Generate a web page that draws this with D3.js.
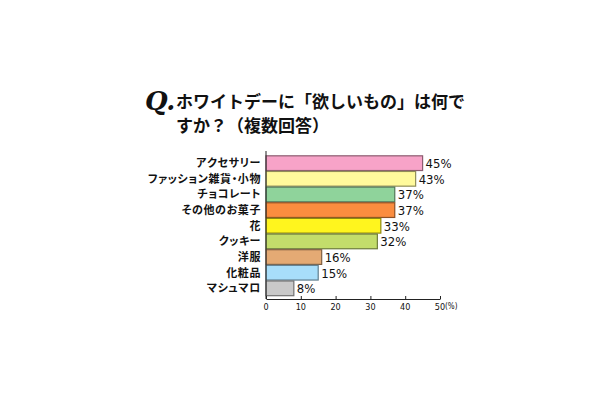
<!DOCTYPE html>
<html>
<head>
<meta charset="utf-8">
<script src="https://cdn.jsdelivr.net/npm/d3@7"></script>
<style>
  body { margin: 0; background: #fff; }
  svg { display: block; }
</style>
</head>
<body>
<svg id="chart" width="610" height="400"></svg>
<script>
// data
const categories = ["アクセサリー", "ファッション雑貨・小物", "チョコレート", "その他のお菓子", "花", "クッキー", "洋服", "化粧品", "マシュマロ"];
const values = [45, 43, 37, 37, 33, 32, 16, 15, 8];
const barColors = ["#f7a3c8", "#fffa9c", "#8fd39b", "#fb8d3f", "#fff51e", "#c3dd6b", "#e4aa74", "#a8defa", "#c9c9c9"];
const tickValues = [0, 10, 20, 30, 40, 50];

const svg = d3.select("#chart");
const font = "'Noto Sans CJK JP', 'Noto Sans', sans-serif";

// scales
const x = d3.scaleLinear().domain([0, 50]).range([266, 440]);
const y = d3.scaleBand()
  .domain(categories)
  .range([155.5, 296])
  .paddingInner(0.06)
  .paddingOuter(0.02);

// title
svg.append("text")
  .attr("x", 145).attr("y", 110)
  .attr("font-family", "'DejaVu Serif', serif")
  .attr("font-style", "italic")
  .attr("font-weight", "bold")
  .attr("font-size", 26)
  .attr("fill", "#111")
  .text("Q.");

const title = svg.append("text")
  .attr("font-family", font)
  .attr("font-weight", "bold")
  .attr("font-size", 17)
  .attr("fill", "#111");
title.append("tspan").attr("x", 176).attr("y", 108).text("ホワイトデーに「欲しいもの」は何で");
title.append("tspan").attr("x", 176).attr("y", 132).text("すか？（複数回答）");

// bars
svg.selectAll(".bar")
  .data(categories)
  .enter()
  .append("rect")
  .attr("class", "bar")
  .attr("x", x(0))
  .attr("y", d => y(d))
  .attr("width", (d, i) => x(values[i]) - x(0))
  .attr("height", y.bandwidth())
  .attr("fill", (d, i) => barColors[i])
  .attr("stroke", (d, i) => d3.color(barColors[i]).darker(1.6))
  .attr("stroke-width", 1.2);

// value labels
svg.selectAll(".val")
  .data(categories)
  .enter()
  .append("text")
  .attr("class", "val")
  .attr("x", (d, i) => x(values[i]) + 3)
  .attr("y", d => y(d) + y.bandwidth() / 2 + 5)
  .attr("font-family", "'Liberation Sans Narrow', 'DejaVu Sans Condensed', sans-serif")
  .attr("font-size", 13)
  .attr("fill", "#111")
  .text((d, i) => values[i] + "%");

// category labels
svg.selectAll(".cat")
  .data(categories)
  .enter()
  .append("text")
  .attr("class", "cat")
  .attr("x", 261)
  .attr("y", d => y(d) + y.bandwidth() / 2 + 4)
  .attr("text-anchor", "end")
  .attr("font-family", font)
  .attr("font-weight", "bold")
  .attr("font-size", 11)
  .style("font-feature-settings", "'palt'")
  .attr("letter-spacing", 0.6)
  .attr("fill", "#111")
  .text(d => d);

// y axis line
svg.append("line")
  .attr("x1", x(0)).attr("x2", x(0))
  .attr("y1", 151).attr("y2", 299)
  .attr("stroke", "#222").attr("stroke-width", 1);

// x axis (ticks point up)
const xAxis = svg.append("g")
  .attr("transform", "translate(0,299)")
  .call(d3.axisTop(x).tickValues(tickValues).tickSize(3).tickSizeOuter(0).tickFormat(""));
xAxis.select(".domain").attr("stroke", "#222");
xAxis.selectAll(".tick line").attr("stroke", "#222");

svg.selectAll(".tlab")
  .data(tickValues)
  .enter()
  .append("text")
  .attr("class", "tlab")
  .attr("x", d => x(d))
  .attr("y", 310)
  .attr("text-anchor", "middle")
  .attr("font-family", "'DejaVu Sans Condensed', sans-serif")
  .attr("font-size", 9)
  .attr("fill", "#111")
  .text(d => d);

svg.append("text")
  .attr("x", 445).attr("y", 309)
  .attr("font-family", "'DejaVu Sans Condensed', sans-serif")
  .attr("font-size", 8)
  .attr("fill", "#111")
  .text("(%)");
</script>
</body>
</html>
